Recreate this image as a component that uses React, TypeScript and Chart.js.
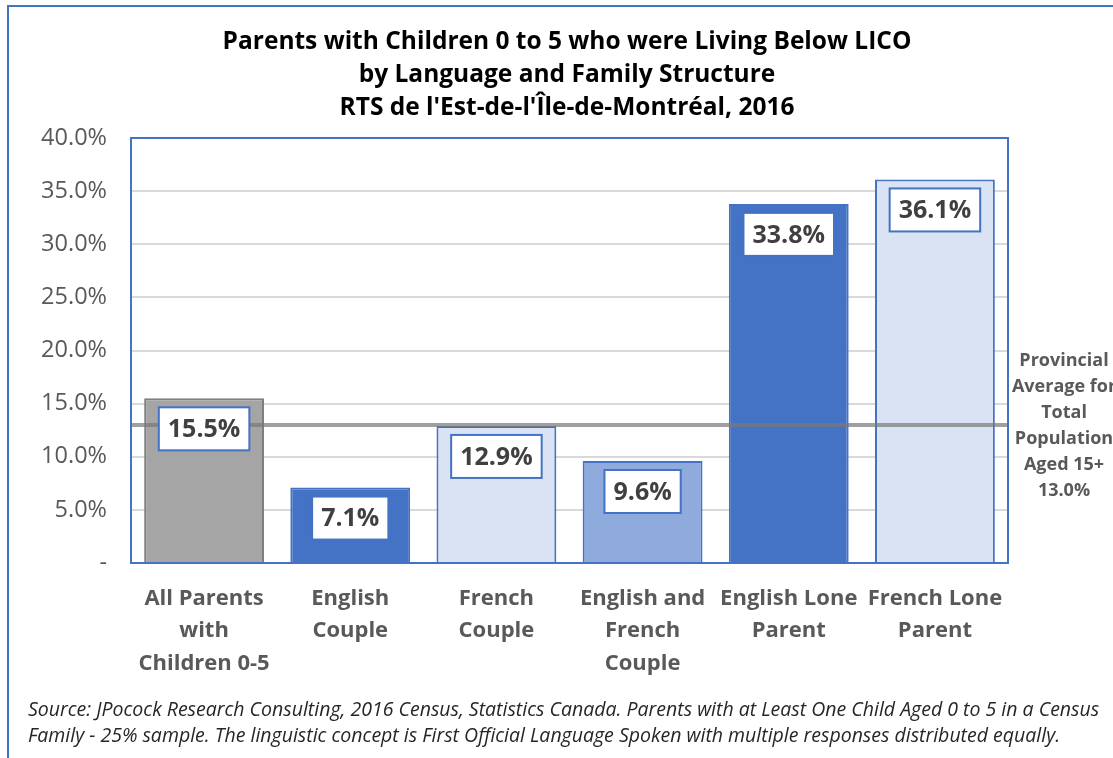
import React, { useEffect, useRef } from "react";
import { Chart, registerables } from "chart.js";

Chart.register(...registerables);

const categories: string[][] = [
  ["All Parents", "with", "Children 0-5"],
  ["English", "Couple"],
  ["French", "Couple"],
  ["English and", "French", "Couple"],
  ["English Lone", "Parent"],
  ["French Lone", "Parent"],
];
const values: number[] = [15.5, 7.1, 12.9, 9.6, 33.8, 36.1];
const barFills: string[] = ["#a5a5a5", "#4472c4", "#dae3f3", "#8faadc", "#4472c4", "#dae3f3"];
const barBorders: string[] = ["#7f7f7f", "#4472c4", "#4472c4", "#4472c4", "#4472c4", "#4472c4"];
const provincialAverage = 13.0;
const provincialLabel: string[] = ["Provincial", "Average for", "Total", "Population", "Aged 15+", "13.0%"];
const titleLines: string[] = [
  "Parents with Children 0 to 5 who were Living Below LICO",
  "by Language and Family Structure",
  "RTS de l'Est-de-l'Île-de-Montréal, 2016",
];
const footnoteLines: string[] = [
  "Source: JPocock Research Consulting, 2016 Census, Statistics Canada. Parents with at Least One Child Aged 0 to 5 in a Census",
  "Family - 25% sample. The linguistic concept is First Official Language Spoken with multiple responses distributed equally.",
];
const yMin = 0;
const yMax = 40;
const yStep = 5;

const FONT = "'Open Sans', 'DejaVu Sans', sans-serif";
const BLUE = "#4472c4";

const decorPlugin = {
  id: "decor",
  beforeDraw(chart: any) {
    const { ctx, width, height } = chart;
    ctx.save();
    ctx.fillStyle = "#ffffff";
    ctx.fillRect(0, 0, width, height);
    ctx.strokeStyle = BLUE;
    ctx.lineWidth = 2;
    ctx.strokeRect(8, 6, width + 50, height + 50);
    ctx.restore();
  },
  afterDatasetsDraw(chart: any) {
    const { ctx, chartArea, scales } = chart;
    ctx.save();
    // provincial average line
    const yAvg = scales.y.getPixelForValue(provincialAverage);
    ctx.strokeStyle = "rgba(120,120,120,0.7)";
    ctx.lineWidth = 4;
    ctx.beginPath();
    ctx.moveTo(chartArea.left, yAvg);
    ctx.lineTo(chartArea.right, yAvg);
    ctx.stroke();
    // plot border
    ctx.strokeStyle = BLUE;
    ctx.lineWidth = 2;
    ctx.strokeRect(chartArea.left, chartArea.top, chartArea.right - chartArea.left, chartArea.bottom - chartArea.top);
    // data labels
    const meta = chart.getDatasetMeta(0);
    ctx.font = `bold 25px ${FONT}`;
    ctx.textAlign = "center";
    ctx.textBaseline = "middle";
    meta.data.forEach((bar: any, i: number) => {
      const text = values[i].toFixed(1) + "%";
      const w = ctx.measureText(text).width + 18;
      const h = 43;
      const top = bar.y + 9;
      ctx.fillStyle = "#ffffff";
      ctx.fillRect(bar.x - w / 2, top, w, h);
      ctx.strokeStyle = BLUE;
      ctx.lineWidth = 2;
      ctx.strokeRect(bar.x - w / 2, top, w, h);
      ctx.fillStyle = "#404040";
      ctx.fillText(text, bar.x, top + h / 2 + 1);
    });
    ctx.restore();
  },
  afterDraw(chart: any) {
    const { ctx } = chart;
    ctx.save();
    // title
    ctx.fillStyle = "#000000";
    ctx.font = `bold 24.5px ${FONT}`;
    ctx.textAlign = "center";
    ctx.textBaseline = "alphabetic";
    titleLines.forEach((t, i) => ctx.fillText(t, 567, 49 + i * 33));
    // provincial label
    ctx.fillStyle = "#595959";
    ctx.font = `bold 18px ${FONT}`;
    ctx.textBaseline = "middle";
    provincialLabel.forEach((t, i) => ctx.fillText(t, 1064, 361 + i * 26));
    // footnote
    ctx.fillStyle = "#262626";
    ctx.font = `italic 19.5px ${FONT}`;
    ctx.textAlign = "left";
    footnoteLines.forEach((t, i) => ctx.fillText(t, 28, 710 + i * 26));
    ctx.restore();
  },
};

export default function App() {
  const ref = useRef<HTMLCanvasElement | null>(null);
  useEffect(() => {
    document.body.style.margin = "0";
    if (!ref.current) return;
    const chart = new Chart(ref.current, {
      type: "bar",
      data: {
        labels: categories,
        datasets: [
          {
            data: values,
            backgroundColor: barFills,
            borderColor: barBorders,
            borderWidth: 2,
            barPercentage: 0.82,
            categoryPercentage: 1,
          },
        ],
      },
      options: {
        responsive: false,
        animation: false,
        devicePixelRatio: 1,
        layout: { padding: { top: 138, right: 105, left: 0, bottom: 0 } },
        plugins: { legend: { display: false }, tooltip: { enabled: false }, title: { display: false } },
        scales: {
          x: {
            grid: { display: false, drawTicks: false },
            border: { display: false },
            ticks: {
              autoSkip: false,
              maxRotation: 0,
              padding: 19,
              color: "#595959",
              font: { family: FONT, size: 22, weight: "bold", lineHeight: 1.48 },
            },
            afterFit(scale: any) {
              scale.height = 195;
            },
          },
          y: {
            min: yMin,
            max: yMax,
            grid: { color: "#d9d9d9", lineWidth: 2, drawTicks: false },
            border: { display: false },
            ticks: {
              stepSize: yStep,
              padding: 24,
              color: "#595959",
              font: { family: FONT, size: 23.5 },
              callback: (v: any) => (Number(v) === 0 ? "-" : Number(v).toFixed(1) + "%"),
            },
            afterFit(scale: any) {
              scale.width = 131;
            },
          },
        },
      },
      plugins: [decorPlugin],
    } as any);
    return () => chart.destroy();
  }, []);
  return <canvas ref={ref} width={1113} height={758} style={{ display: "block" }} />;
}
